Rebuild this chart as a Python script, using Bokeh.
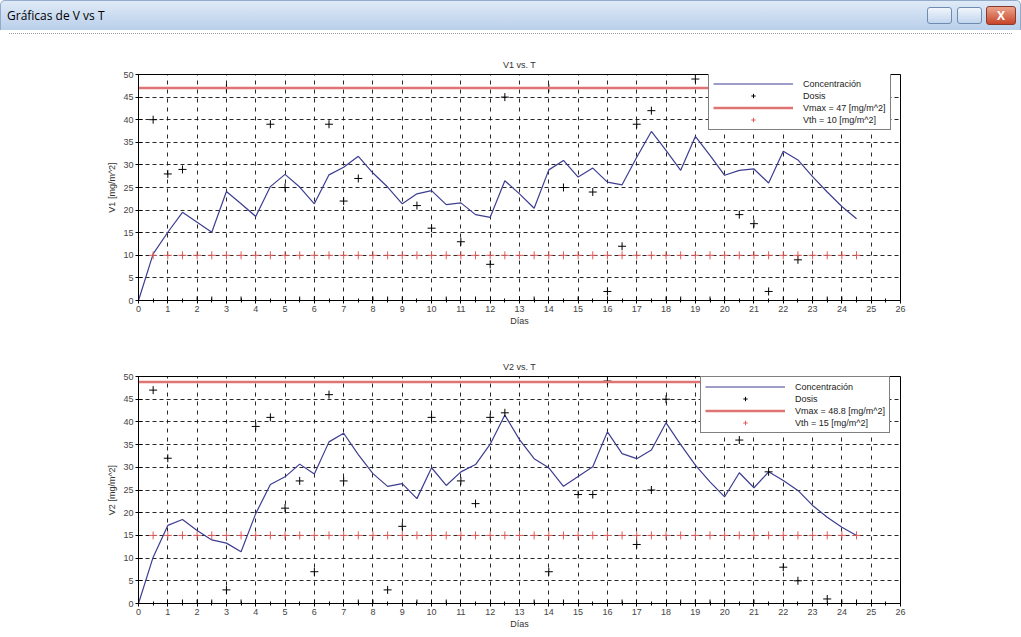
from bokeh.plotting import figure
from bokeh.layouts import column
from bokeh.models import Range1d, FixedTicker, Div
from bokeh.embed import file_html
from bokeh.resources import INLINE

# ---------------- data ----------------
T_CONC = [0, 0.5, 1, 1.5, 2, 2.5, 3, 3.5, 4, 4.5, 5, 5.5, 6, 6.5, 7, 7.5, 8, 8.5, 9, 9.5,
          10, 10.5, 11, 11.5, 12, 12.5, 13, 13.5, 14, 14.5, 15, 15.5, 16, 16.5, 17, 17.5,
          18, 18.5, 19, 19.5, 20, 20.5, 21, 21.5, 22, 22.5, 23, 23.5, 24, 24.5]
T_DOSE = T_CONC[1:]

V1_CONC = [0, 10.3, 15.1, 19.5, 17.3, 15.1, 24.1, 21.4, 18.6, 25.2, 27.9, 25.1, 21.4, 27.8,
           29.5, 31.9, 28.2, 25.1, 21.4, 23.6, 24.3, 21.2, 21.6, 19.0, 18.4, 26.5, 23.6,
           20.4, 28.9, 31.0, 27.3, 29.3, 26.2, 25.6, 31.7, 37.4, 33.2, 28.8, 36.3, 32.1,
           27.7, 28.8, 29.1, 26.0, 33.0, 31.1, 27.4, 24.0, 20.8, 18.1]
V1_DOSE = [40, 28, 29, 0, 0, 47, 0, 0, 39, 25, 0, 0, 39, 22, 27, 0, 0, 0, 21, 16, 0, 13, 0, 8,
           45, 0, 0, 47, 25, 0, 24, 2, 12, 39, 42, 0, 0, 49, 0, 0, 19, 17, 2, 0, 9, 0, 0, 0, 0]

V2_CONC = [0, 10.2, 17.2, 18.5, 16.1, 14.0, 13.3, 11.4, 19.8, 26.2, 27.9, 30.7, 28.5, 35.6,
           37.5, 32.8, 28.6, 25.8, 26.4, 23.1, 29.9, 26.0, 29.0, 30.6, 35.1, 41.5, 36.1,
           31.9, 29.9, 25.8, 28.0, 30.1, 37.8, 33.0, 31.9, 33.8, 39.8, 35.0, 30.5, 26.8,
           23.5, 28.8, 25.5, 29.0, 27.1, 24.9, 21.6, 19.0, 16.8, 15.0]
V2_DOSE = [47, 32, 0, 0, 0, 3, 0, 39, 41, 21, 27, 7, 46, 27, 0, 0, 3, 17, 0, 41, 0, 27, 22, 41,
           42, 0, 0, 7, 0, 24, 24, 49, 0, 13, 25, 45, 0, 0, 0, 0, 36, 0, 29, 8, 5, 0, 1, 0, 0]

VMAX = [47, 48.8]
VTH = [10, 15]
TITLES = ["V1 vs. T", "V2 vs. T"]
YLABELS = ["V1 [mg/m^2]", "V2 [mg/m^2]"]
XLABEL = "Días"
X_LIM = [0, 26]
Y_LIM = [0, 50]
X_TICKS = list(range(0, 27))
X_MINOR = [i + 0.5 for i in range(0, 26)]
Y_TICKS = list(range(0, 51, 5))

FONT = "Liberation Sans"
W = 1021


def make_plot(idx, conc, dose, height, top, bottom, leg_xy):
    p = figure(width=W, height=height, output_backend="svg", toolbar_location=None,
               x_range=Range1d(*X_LIM), y_range=Range1d(*Y_LIM),
               min_border_left=138, min_border_right=W - 900,
               min_border_top=top, min_border_bottom=bottom,
               background_fill_color="white", border_fill_color="white")
    p.outline_line_color = "black"
    p.outline_line_width = 1
    p.title.text = TITLES[idx]
    p.title.align = "center"
    p.title.text_font = FONT
    p.title.text_font_size = "9px"
    p.title.text_font_style = "normal"
    p.title.text_color = "#333333"

    vm = VMAX[idx]
    vt = VTH[idx]
    p.line(T_CONC, conc, line_color="#3d3d91", line_width=1.2,
           legend_label="Concentración")
    p.scatter(T_DOSE, dose, marker="cross", size=8, line_color="black", line_width=1,
              legend_label="Dosis")
    p.line([T_CONC[0], T_CONC[-1]], [vm, vm], line_color="#e07474", line_width=2.4,
           legend_label=f"Vmax = {vm:g} [mg/m^2]")
    p.scatter(T_DOSE, [vt] * len(T_DOSE), marker="cross", size=8, line_color="#e05a5a",
              line_width=1, legend_label=f"Vth = {vt:g} [mg/m^2]")

    # axes
    p.xaxis.ticker = FixedTicker(ticks=X_TICKS, minor_ticks=X_MINOR)
    p.yaxis.ticker = FixedTicker(ticks=Y_TICKS)
    for ax in (p.xaxis[0], p.yaxis[0]):
        ax.axis_line_color = "black"
        ax.major_tick_line_color = "black"
        ax.minor_tick_line_color = "black"
        ax.major_tick_in = 4
        ax.major_tick_out = 3
        ax.minor_tick_in = 2
        ax.minor_tick_out = 2
        ax.major_label_text_font = FONT
        ax.major_label_text_font_size = "9px"
        ax.major_label_text_color = "#444444"
        ax.major_label_standoff = 2
        ax.axis_label_text_font = FONT
        ax.axis_label_text_font_size = "9px"
        ax.axis_label_text_font_style = "normal"
        ax.axis_label_text_color = "#333333"
    p.xaxis.axis_label = XLABEL
    p.xaxis.axis_label_standoff = 1
    p.yaxis.axis_label = YLABELS[idx]
    p.yaxis.axis_label_standoff = 3
    p.yaxis.minor_tick_line_color = None

    # grid
    p.xgrid.grid_line_color = "#111111"
    p.xgrid.grid_line_dash = "4 5"
    p.xgrid.grid_line_alpha = 0.9
    p.ygrid.grid_line_color = "#111111"
    p.ygrid.grid_line_dash = "4 3"
    p.ygrid.grid_line_alpha = 0.9

    # legend
    lg = p.legend[0]
    lg.location = leg_xy
    lg.border_line_color = "black"
    lg.border_line_width = 1
    lg.background_fill_alpha = 1
    lg.label_text_font = FONT
    lg.label_text_font_size = "9px"
    lg.label_text_color = "#222222"
    lg.glyph_width = 80
    lg.glyph_height = 11
    lg.label_height = 11
    lg.label_standoff = 10
    lg.spacing = 1
    lg.padding = 4
    lg.margin = 0
    return p


title_html = """
<div style="width:1021px;height:36px;position:relative;background:white;">
<div style="position:absolute;left:0;top:0;width:1021px;height:30px;box-sizing:border-box;
background:linear-gradient(#dfeaf7,#b9cfea);border:1px solid #93abc9;border-bottom:none;
border-radius:5px 5px 0 0;font-family:'Open Sans';font-size:12px;color:#000;">
<span style="position:absolute;left:6px;top:6px;">Gráficas de V vs T</span>
<span style="position:absolute;right:68px;top:6px;width:25px;height:17px;box-sizing:border-box;
border:1px solid #6f8bb0;border-radius:3px;background:linear-gradient(#f0f5fb,#c3d6ee);"></span>
<span style="position:absolute;right:38px;top:6px;width:25px;height:17px;box-sizing:border-box;
border:1px solid #6f8bb0;border-radius:3px;background:linear-gradient(#f0f5fb,#c3d6ee);"></span>
<span style="position:absolute;right:4px;top:5px;width:30px;height:19px;box-sizing:border-box;
border:1px solid #8a3a2a;border-radius:3px;background:linear-gradient(#eba48c,#c8442a);
color:white;font-weight:bold;font-size:12px;text-align:center;line-height:17px;">X</span>
</div>
<div style="position:absolute;left:9px;top:33px;width:1003px;height:0;
border-top:1px dotted #9a9a9a;"></div>
</div>
"""
bar = Div(text=title_html, width=W, height=36, margin=(0, 0, 0, 0))

p1 = make_plot(0, V1_CONC, V1_DOSE, height=313, top=38, bottom=49, leg_xy=(570, 170))
p2 = make_plot(1, V2_CONC, V2_DOSE, height=288, top=27, bottom=34, leg_xy=(562, 170))

layout = column(bar, p1, p2, spacing=0)
open("out.html", "w").write(file_html(layout, INLINE))
